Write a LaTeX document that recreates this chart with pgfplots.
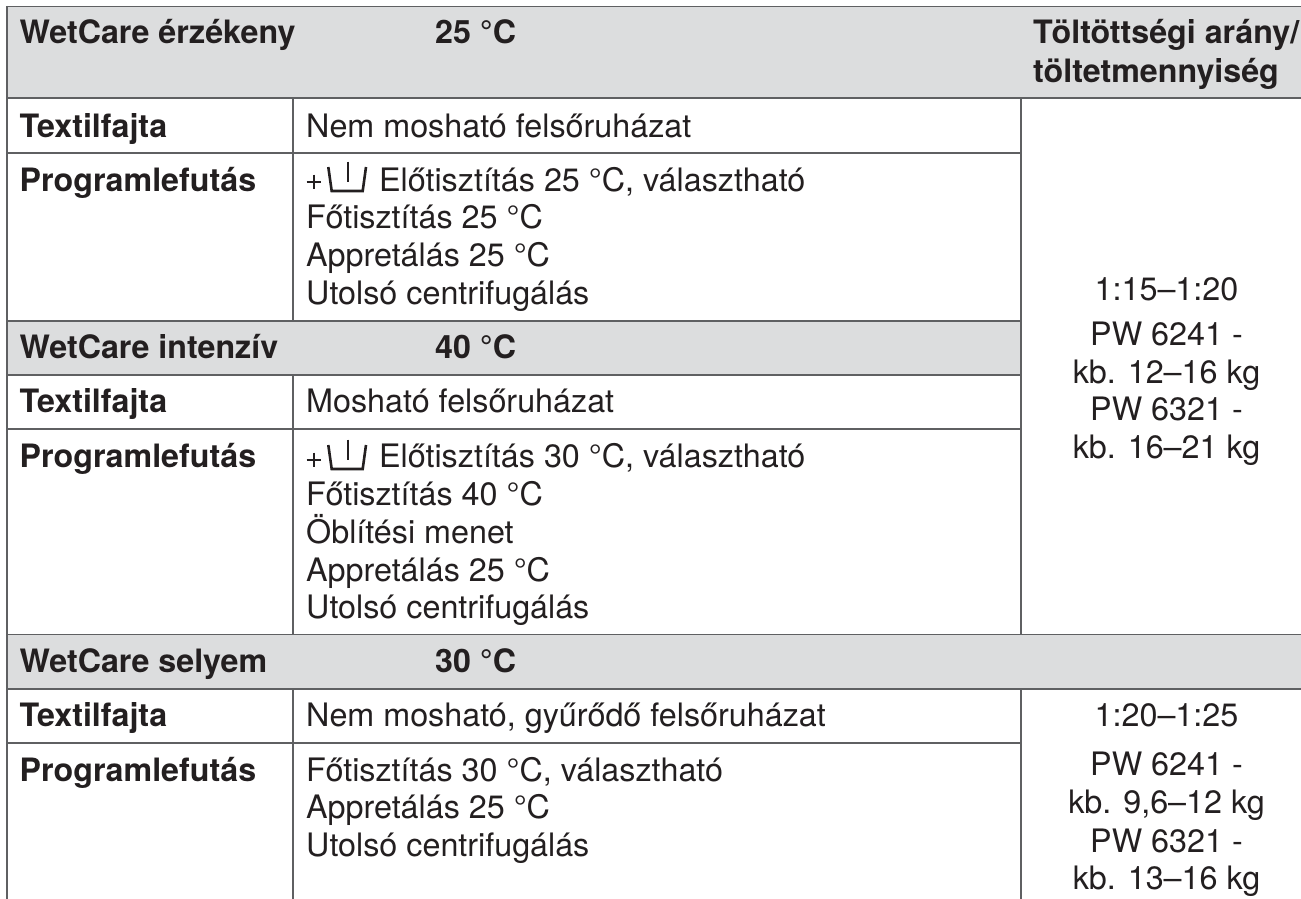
\documentclass[border=0pt]{standalone}
\usepackage{fontspec}
\setmainfont{TeX Gyre Heros}
\usepackage{pgfplots}
\pgfplotsset{compat=1.18}
\definecolor{rowgray}{HTML}{DCDDDE}
\definecolor{rule}{HTML}{5F6062}
\definecolor{ink}{HTML}{231F20}
\newcommand{\bt}[3]{\node[anchor=base west,inner sep=0pt,text=ink,font=\fontsize{32.2}{32}\selectfont\bfseries] at (axis cs:#1,#2) {#3};}
\newcommand{\rt}[3]{\node[anchor=base west,inner sep=0pt,text=ink,font=\fontsize{32.3}{32}\selectfont] at (axis cs:#1,#2) {#3};}
\newcommand{\ct}[2]{\node[anchor=base,inner sep=0pt,text=ink,font=\fontsize{32.3}{32}\selectfont] at (axis cs:1166.5,#1) {#2};}
\begin{document}
\begin{tikzpicture}
\begin{axis}[hide axis,scale only axis,width=1301pt,height=899pt,
  xmin=0,xmax=1301,ymin=0,ymax=899,y dir=reverse,clip=true]
\path (axis cs:0,0) rectangle (axis cs:1301,899);
% gray bands
\addplot[fill=rowgray,draw=none] coordinates {(7,6.5) (1301,6.5) (1301,98) (7,98)} --cycle;
\addplot[fill=rowgray,draw=none] coordinates {(7,321) (1021,321) (1021,375) (7,375)} --cycle;
\addplot[fill=rowgray,draw=none] coordinates {(7,634.5) (1301,634.5) (1301,689) (7,689)} --cycle;
% horizontal rules
\addplot[rule,line width=1.6pt] coordinates {(6,6.5) (1301,6.5)};
\addplot[rule,line width=1.6pt] coordinates {(6,98) (1301,98)};
\addplot[rule,line width=1.6pt] coordinates {(6,153) (1021,153)};
\addplot[rule,line width=1.6pt] coordinates {(6,321) (1021,321)};
\addplot[rule,line width=1.6pt] coordinates {(6,375) (1021,375)};
\addplot[rule,line width=1.6pt] coordinates {(6,429) (1021,429)};
\addplot[rule,line width=1.6pt] coordinates {(6,634.5) (1301,634.5)};
\addplot[rule,line width=1.6pt] coordinates {(6,689) (1301,689)};
\addplot[rule,line width=1.6pt] coordinates {(6,743) (1021,743)};
% vertical rules
\addplot[rule,line width=1.6pt] coordinates {(7,6) (7,899)};
\addplot[rule,line width=1.6pt] coordinates {(293,98) (293,321)};
\addplot[rule,line width=1.6pt] coordinates {(293,375) (293,634.5)};
\addplot[rule,line width=1.6pt] coordinates {(293,689) (293,899)};
\addplot[rule,line width=1.6pt] coordinates {(1021,98) (1021,634.5)};
\addplot[rule,line width=1.6pt] coordinates {(1021,689) (1021,899)};
% basins
\addplot[ink,line width=2.6pt] coordinates {(328.3,167) (331.7,191) (362.7,191) (366,167)};
\addplot[ink,line width=2.6pt] coordinates {(348,161.7) (348,181.7)};
\addplot[ink,line width=2.6pt] coordinates {(328.3,445) (331.7,469) (362.7,469) (366,445)};
\addplot[ink,line width=2.6pt] coordinates {(348,439.7) (348,459.7)};
% plus signs
\addplot[ink,line width=1.8pt] coordinates {(306.7,181.7) (320.7,181.7)};
\addplot[ink,line width=1.8pt] coordinates {(313.7,174.7) (313.7,188.7)};
\addplot[ink,line width=1.8pt] coordinates {(306.7,459.7) (320.7,459.7)};
\addplot[ink,line width=1.8pt] coordinates {(313.7,452.7) (313.7,466.7)};
% header 1
\bt{19.5}{44}{WetCare érzékeny}
\bt{435}{44}{25 °C}
\bt{1033}{44}{Töltöttségi arány/}
\bt{1033}{82}{töltetmennyiség}
\bt{19.5}{137}{Textilfajta}
\rt{306}{137}{Nem mosható felsőruházat}
\bt{19.5}{191}{Programlefutás}
\rt{379}{191}{Előtisztítás 25 °C, választható}
\rt{306}{228}{Főtisztítás 25 °C}
\rt{306}{266}{Appretálás 25 °C}
\rt{306}{304}{Utolsó centrifugálás}
% block 2
\bt{19.5}{358}{WetCare intenzív}
\bt{435}{358}{40 °C}
\bt{19.5}{412}{Textilfajta}
\rt{306}{412}{Mosható felsőruházat}
\bt{19.5}{467}{Programlefutás}
\rt{379}{467}{Előtisztítás 30 °C, választható}
\rt{306}{505}{Főtisztítás 40 °C}
\rt{306}{543}{Öblítési menet}
\rt{306}{581}{Appretálás 25 °C}
\rt{306}{618.5}{Utolsó centrifugálás}
% block 3
\bt{19.5}{672}{WetCare selyem}
\bt{435}{672}{30 °C}
\bt{19.5}{726}{Textilfajta}
\rt{306}{726}{Nem mosható, gyűrődő felsőruházat}
\bt{19.5}{781.5}{Programlefutás}
\rt{306}{781.5}{Főtisztítás 30 °C, választható}
\rt{306}{818}{Appretálás 25 °C}
\rt{306}{856}{Utolsó centrifugálás}
% right column
\ct{300}{1:15–1:20}
\ct{345}{PW 6241 -}
\ct{383}{kb. 12–16 kg}
\ct{420}{PW 6321 -}
\ct{458}{kb. 16–21 kg}
\ct{726}{1:20–1:25}
\ct{775}{PW 6241 -}
\ct{813}{kb. 9,6–12 kg}
\ct{852}{PW 6321 -}
\ct{889}{kb. 13–16 kg}
\end{axis}
\end{tikzpicture}
\end{document}
